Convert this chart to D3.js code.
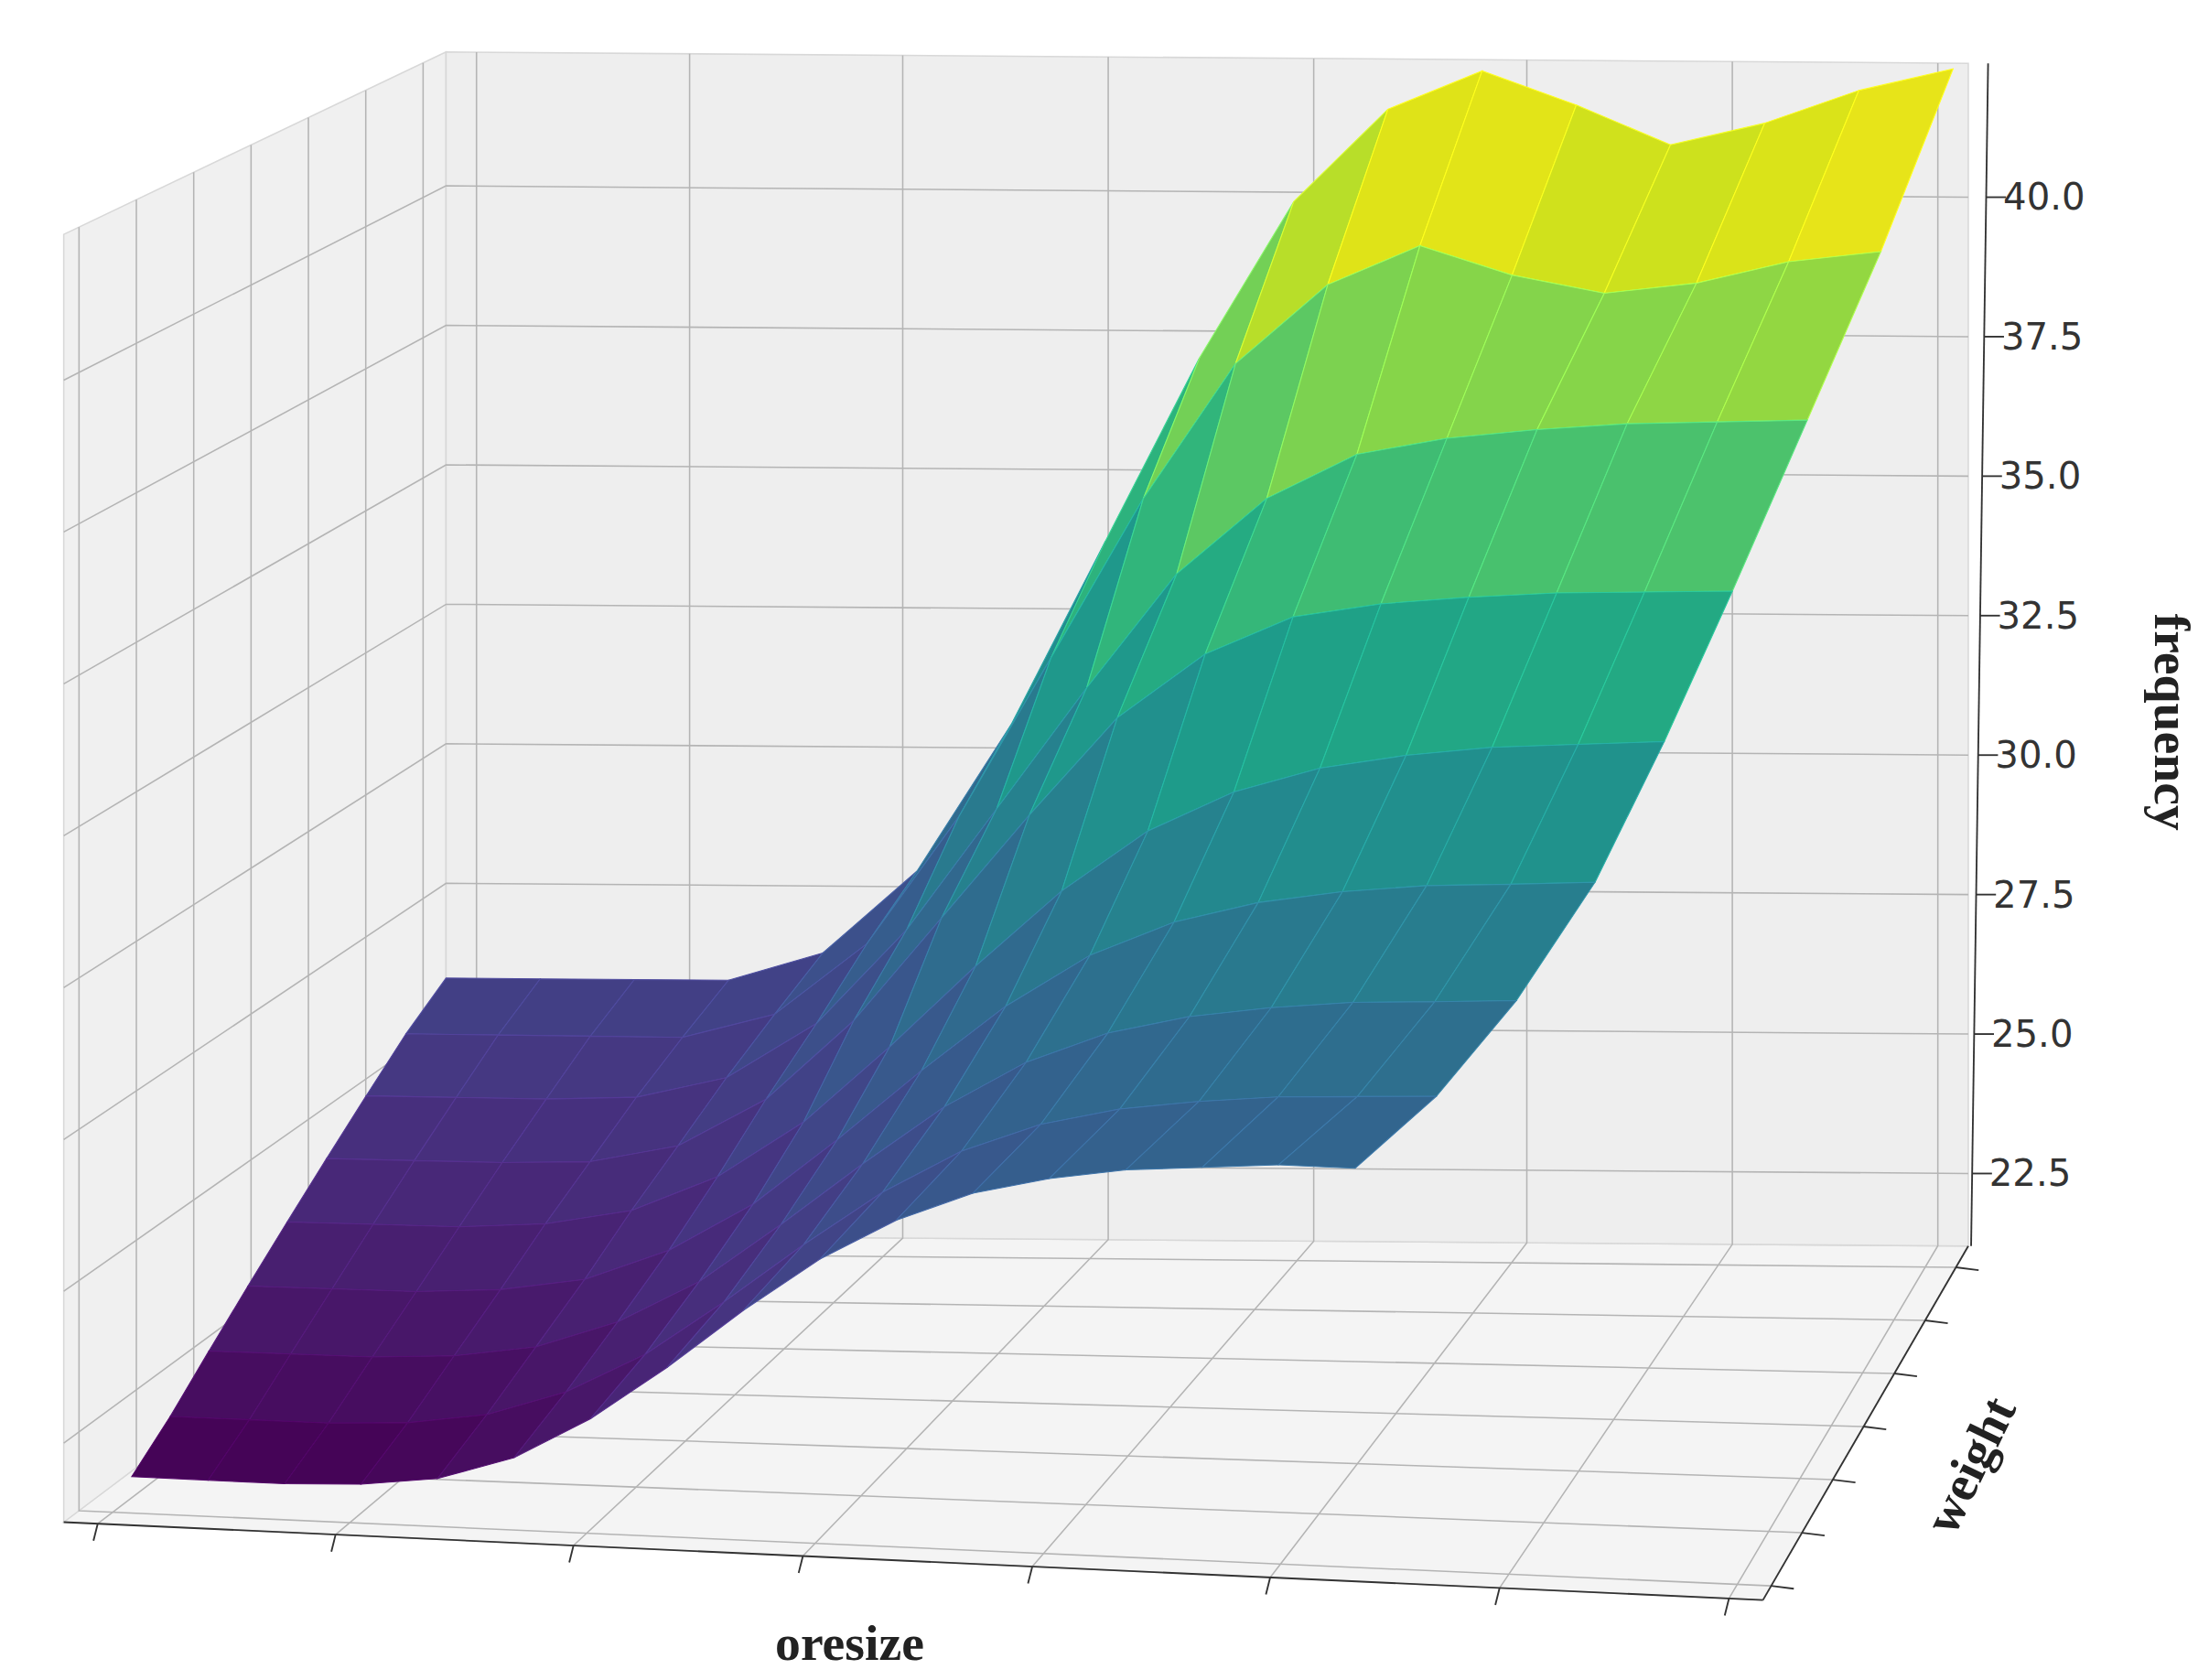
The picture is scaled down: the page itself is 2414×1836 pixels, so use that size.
<!DOCTYPE html>
<html>
<head>
<meta charset="utf-8">
<script src="https://cdn.jsdelivr.net/npm/d3@7"></script>
<style>body{margin:0;background:#fff;}</style>
</head>
<body>
<script>
// surface grid: fraction along each row (u), depth rows (weight, front->back)
var uSteps = [0,0.0625,0.125,0.1875,0.25,0.3125,0.375,0.4375,0.5,0.5625,0.625,0.6875,0.75,0.8125,0.875,0.9375,1];
var weightRows = [0,0.125,0.25,0.375,0.5,0.625,0.75,0.875,1];
var rowStart = [0.04,0.035,0.03,0.025,0.02,0.015,0.01,0.005,0];      // oresize at u=0
var rowEnd   = [0.76,0.79,0.82,0.85,0.875,0.90,0.93,0.96,0.99];     // oresize at u=1
var freq = [
  [22,22,22,22.05,22.2,22.6,23.3,24.2,25.2,26.1,26.8,27.3,27.6,27.8,27.9,28,28],
  [22.4,22.4,22.4,22.46,22.65,23.08,23.76,24.69,25.69,26.62,27.36,27.86,28.17,28.35,28.48,28.54,28.6],
  [22.9,22.9,22.9,22.97,23.17,23.64,24.37,25.38,26.45,27.46,28.26,28.8,29.13,29.33,29.47,29.53,29.6],
  [23.4,23.4,23.4,23.48,23.7,24.24,25.07,26.21,27.43,28.57,29.48,30.09,30.47,30.7,30.85,30.92,31],
  [23.9,23.9,23.9,23.99,24.26,24.88,25.86,27.19,28.62,29.95,31.02,31.73,32.18,32.44,32.62,32.71,32.8],
  [24.4,24.4,24.4,24.45,24.76,25.6,27,28.82,30.64,32.36,33.5,34.18,34.44,34.59,34.7,34.75,34.8],
  [24.9,24.9,24.9,24.96,25.33,26.31,27.98,30.13,32.28,34.31,35.66,36.46,36.77,36.95,37.08,37.14,37.2],
  [25.4,25.4,25.4,25.4,25.83,27.1,29.38,32.22,35.06,37.47,38.89,39.6,39.1,38.8,39.0,39.4,39.6],
  [25.8,25.8,25.8,25.8,26.3,27.78,30.42,33.72,37.02,39.83,41.5,42.2,41.6,40.9,41.3,41.9,42.3]
];
var oresizeTicks = [0.02,0.16,0.3,0.435,0.57,0.71,0.845,0.98];
var weightTicks = [0.04,0.19,0.34,0.49,0.64,0.79,0.94];
var freqTicks = [22.5,25.0,27.5,30.0,32.5,35.0,37.5,40.0];
var zMin = 21.2, zMax = 42.4;

var W = 2414, H = 1836, s = W / 1560;
var svg = d3.select('body').append('svg').attr('width', W).attr('height', H);
var g = svg.append('g').attr('transform', 'scale(' + s + ')');

// floor corners (front-left, front-right, back-left, back-right)
var FL = [45,1075], FR = [1245,1130], BL = [315,872], BR = [1390,880];
var kz = d3.scaleLinear().domain([0,1]).range([42.9, 39.4]);   // px per unit by depth
var zs = d3.scaleLinear().domain([zMin, zMax]).range([0, zMax - zMin]);

function proj(o, w, z) {
  var fx = (1-w)*((1-o)*FL[0] + o*FR[0]) + w*((1-o)*BL[0] + o*BR[0]);
  var fy = (1-w)*((1-o)*FL[1] + o*FR[1]) + w*((1-o)*BL[1] + o*BR[1]);
  return [fx, fy - zs(z) * kz(w)];
}
var line = d3.line();

// panes
function pane(pts, fill) {
  g.append('path').attr('d', line(pts) + 'Z').attr('fill', fill)
   .attr('stroke', '#d8d8d8').attr('stroke-width', 1);
}
pane([proj(0,0,zMin), proj(1,0,zMin), proj(1,1,zMin), proj(0,1,zMin)], '#f4f4f4');
pane([proj(0,0,zMin), proj(0,1,zMin), proj(0,1,zMax), proj(0,0,zMax)], '#f0f0f0');
pane([proj(0,1,zMin), proj(1,1,zMin), proj(1,1,zMax), proj(0,1,zMax)], '#eeeeee');

var grid = g.append('g').attr('stroke', '#b4b4b4').attr('stroke-width', 1).attr('fill', 'none');
oresizeTicks.forEach(function(o) {
  grid.append('path').attr('d', line([proj(o,0,zMin), proj(o,1,zMin), proj(o,1,zMax)]));
});
weightTicks.forEach(function(w) {
  grid.append('path').attr('d', line([proj(1,w,zMin), proj(0,w,zMin), proj(0,w,zMax)]));
});
freqTicks.forEach(function(z) {
  grid.append('path').attr('d', line([proj(0,0,z), proj(0,1,z), proj(1,1,z)]));
});

// surface
var color = d3.scaleSequential(d3.interpolateViridis).domain([22, 41.5]);
var cells = [];
for (var j = 0; j < weightRows.length - 1; j++) {
  for (var i = 0; i < uSteps.length - 1; i++) {
    var pts = [[i,j],[i+1,j],[i+1,j+1],[i,j+1]].map(function(p) {
      var w = weightRows[p[1]], u = uSteps[p[0]];
      var o = rowStart[p[1]] + (rowEnd[p[1]] - rowStart[p[1]]) * u;
      return {xy: proj(o, w, freq[p[1]][p[0]]), z: freq[p[1]][p[0]]};
    });
    cells.push({pts: pts, depth: (weightRows[j] + weightRows[j+1]) / 2,
                z: d3.mean(pts, function(d){ return d.z; })});
  }
}
cells.sort(function(a, b){ return b.depth - a.depth; });
g.append('g').selectAll('path').data(cells).enter().append('path')
  .attr('d', function(d){ return line(d.pts.map(function(p){ return p.xy; })) + 'Z'; })
  .attr('fill', function(d){ return color(d.z); })
  .attr('stroke', function(d){ return d3.color(color(d.z)).brighter(0.5); })
  .attr('stroke-width', 0.7);

// axes
var ax = g.append('g').attr('stroke', '#333').attr('stroke-width', 1.2).attr('fill', 'none');
ax.append('path').attr('d', line([proj(0,0,zMin), proj(1,0,zMin)]));
oresizeTicks.forEach(function(o) {
  var p = proj(o,0,zMin);
  ax.append('path').attr('d', line([p, [p[0]-3, p[1]+12]]));
});
ax.append('path').attr('d', line([proj(1,0,zMin), proj(1,1,zMin)]));
weightTicks.forEach(function(w) {
  var p = proj(1,w,zMin);
  ax.append('path').attr('d', line([p, [p[0]+16, p[1]+2]]));
});
var zAxX = BR[0] + 2;
var zy = function(z){ return proj(1,1,z)[1]; };
ax.append('path').attr('d', line([[zAxX, zy(zMin)], [zAxX + 12, zy(zMax)]]));
freqTicks.forEach(function(z) {
  var x = zAxX + 12 * zs(z) / (zMax - zMin);
  ax.append('path').attr('d', line([[x, zy(z)], [x + 14, zy(z)]]));
  g.append('text').attr('x', x + 12).attr('y', zy(z) + 9)
   .attr('font-family', 'DejaVu Sans').attr('font-size', 26).attr('fill', '#333')
   .text(z.toFixed(1));
});

var lab = {'font-family': 'Liberation Serif', 'font-weight': 'bold', 'font-size': 36, 'fill': '#222'};
function label(t, x, y, r) {
  var el = g.append('text').attr('transform', 'translate(' + x + ',' + y + ') rotate(' + r + ')')
    .attr('text-anchor', 'middle').text(t);
  for (var k in lab) el.attr(k, lab[k]);
}
label('oresize', 600, 1172, 0);
label('frequency', 1522, 510, 90);
label('weight', 1402, 1040, -64);
</script>
</body>
</html>
